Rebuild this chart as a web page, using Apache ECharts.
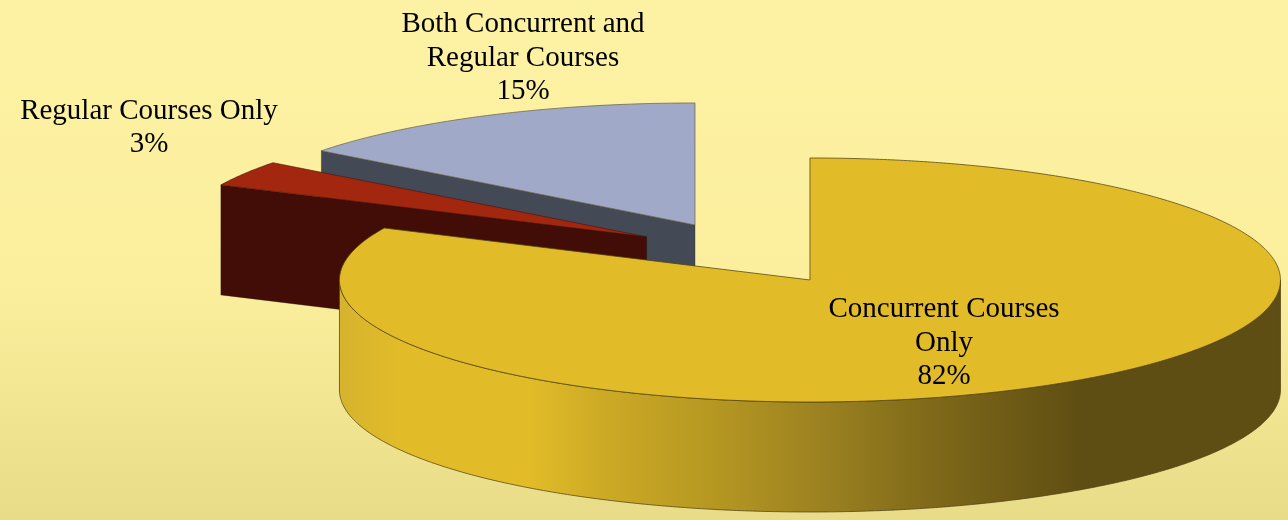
<!DOCTYPE html>
<html>
<head>
<meta charset="utf-8">
<style>html,body{margin:0;padding:0;background:#fdf2a5}#chart{width:1288px;height:520px}</style>
<script src="https://cdn.jsdelivr.net/npm/echarts@6/dist/echarts.min.js"></script>
</head>
<body>
<div id="chart"></div>
<script>
// Data
const categories = ['Concurrent Courses Only', 'Regular Courses Only', 'Both Concurrent and Regular Courses'];
const labelLines = [['Concurrent Courses', 'Only'], ['Regular Courses Only'], ['Both Concurrent and', 'Regular Courses']];
const shares = [82, 3.4, 14.6];

// Styles
const topColors = ['#E2BC28', '#A3260F', '#A0AAC8'];
const cutColors = ['#5F4E13', '#420D06', '#434A56'];
const edgeColors = ['rgba(80,66,20,0.75)', 'rgba(70,20,10,0.6)', 'rgba(105,100,75,0.75)'];
const paintOrder = [3, 2, 1];
const wallStops = [
  [0, '#D6B32E'], [0.07, '#E2BC28'], [0.2, '#E2BC28'], [0.28, '#CDAA25'], [0.384, '#B89A22'],
  [0.52, '#9A8020'], [0.65, '#7A6518'], [0.787, '#5F4E13'], [1, '#5F4E13']
];

// Pie projection
const pie = { cx: 747, cy: 253.3, rx: 470.5, ry: 122, depth: 110, explodeX: 117.5, explodeY: 31.6 };
const labelAnchors = [[944, 343], [149, 128], [523, 58]];
const font = { family: '"Liberation Serif","Times New Roman",serif', size: 29, lineHeight: 33.5 };

const total = shares.reduce((a, b) => a + b, 0);
const rad = d => d * Math.PI / 180;

function renderSlice(params, api) {
  const i = params.dataIndex;
  const before = shares.slice(0, i).reduce((a, b) => a + b, 0);
  const start = before / total * 360;
  const sweep = api.value(0) / total * 360;
  const end = start + sweep;
  const mid = rad(start + sweep / 2);
  const ox = pie.cx + Math.sin(mid) * pie.explodeX;
  const oy = pie.cy - Math.cos(mid) * pie.explodeY;
  const ptAt = (t, drop) => [ox + Math.sin(rad(t)) * pie.rx, oy - Math.cos(rad(t)) * pie.ry + (drop || 0)];
  const arc = (a, b, drop) => {
    const pts = [];
    const n = Math.max(2, Math.ceil((b - a) * 2));
    for (let k = 0; k <= n; k++) pts.push(ptAt(a + (b - a) * k / n, drop));
    return pts;
  };
  const z = paintOrder[i] * 10;
  const edge = { stroke: edgeColors[i], lineWidth: 1 };
  const children = [];

  // flat cut face at the slice's leading radius, seen when it faces the viewer
  if (Math.sin(rad(start)) < -0.01) {
    const a = ptAt(start), b = ptAt(start, pie.depth);
    children.push({
      type: 'polygon', z2: z,
      shape: { points: [a, [ox, oy], [ox, oy + pie.depth], b] },
      style: { fill: cutColors[i], stroke: 'rgba(30,20,15,0.35)', lineWidth: 1 }
    });
  }
  // outer curved wall (front half of the rim only)
  const wa = Math.max(start, 90), wb = Math.min(end, 270);
  if (wb > wa) {
    const upper = arc(wa, wb, 0), lower = arc(wa, wb, pie.depth).reverse();
    children.push({
      type: 'polygon', z2: z + 1,
      shape: { points: upper.concat(lower) },
      style: Object.assign({
        fill: new echarts.graphic.LinearGradient(0, 0, 1, 0, wallStops.map(s => ({ offset: s[0], color: s[1] })))
      }, edge)
    });
  }
  // top face
  children.push({
    type: 'polygon', z2: z + 2,
    shape: { points: [[ox, oy]].concat(arc(start, end, 0)) },
    style: Object.assign({ fill: topColors[i] }, edge)
  });
  // label
  const text = labelLines[i].concat(Math.round(api.value(0)) + '%').join('\n');
  children.push({
    type: 'text', z2: 100,
    style: {
      x: labelAnchors[i][0], y: labelAnchors[i][1], text: text,
      fill: '#000', align: 'center', verticalAlign: 'middle',
      font: font.size + 'px ' + font.family, lineHeight: font.lineHeight
    }
  });
  return { type: 'group', children: children };
}

const chart = echarts.init(document.getElementById('chart'), null, { renderer: 'canvas' });
chart.setOption({
  animation: false,
  backgroundColor: new echarts.graphic.LinearGradient(0, 0, 0, 1, [
    { offset: 0, color: '#FDF2A4' }, { offset: 0.55, color: '#FBEF9D' }, { offset: 1, color: '#E8DC88' }
  ]),
  series: [{
    type: 'custom',
    coordinateSystem: 'none',
    renderItem: renderSlice,
    clip: false,
    data: shares.map((v, i) => ({ name: categories[i], value: [v] }))
  }]
});
</script>
</body>
</html>
